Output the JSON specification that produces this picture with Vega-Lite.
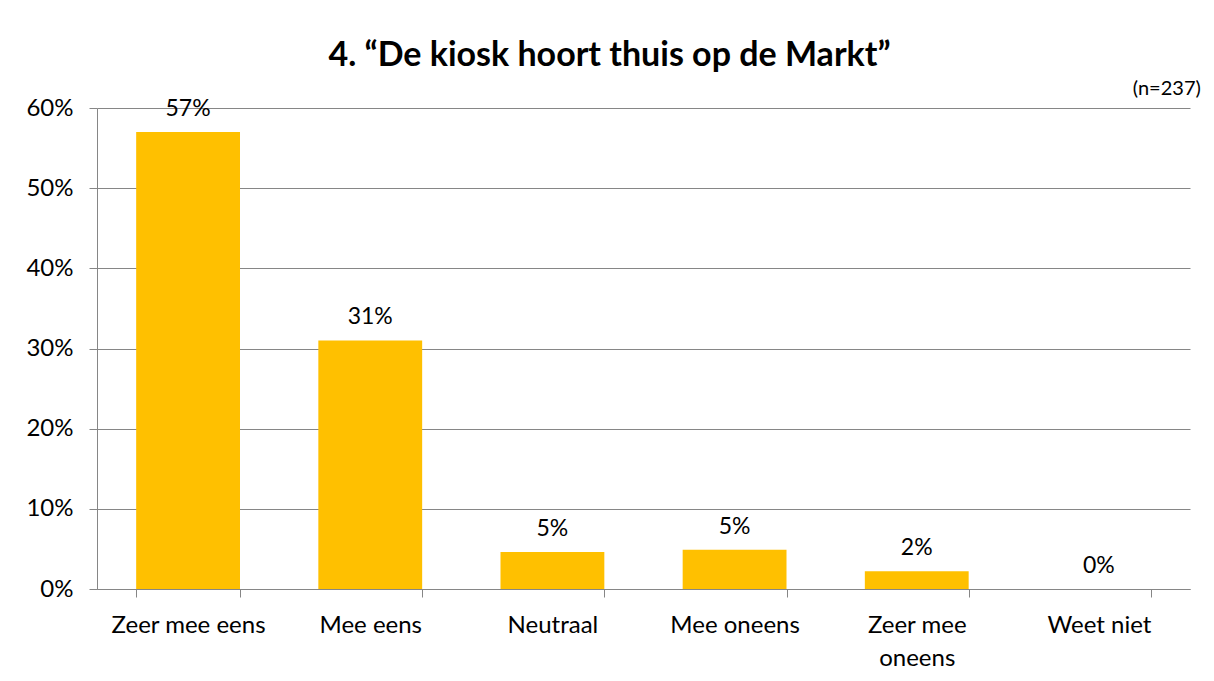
{
  "$schema": "https://vega.github.io/schema/vega-lite/v6.json",
  "width": 1093,
  "height": 481,
  "autosize": "none",
  "padding": {"left": 97, "top": 108, "right": 24, "bottom": 92},
  "background": "white",
  "config": {"font": "Lato", "view": {"stroke": null}},
  "title": {"text": "4. “De kiosk hoort thuis op de Markt”", "fontSize": 34, "fontWeight": "bold", "color": "black", "anchor": "middle", "frame": "group", "dx": -34, "offset": 6},
  "data": {"values": [
    {"cat": "Zeer mee eens", "pct": 0.570},
    {"cat": "Mee eens", "pct": 0.310},
    {"cat": "Neutraal", "pct": 0.046},
    {"cat": "Mee oneens", "pct": 0.049},
    {"cat": "Zeer mee oneens", "pct": 0.022},
    {"cat": "Weet niet", "pct": 0.0}
  ]},
  "layer": [
    {
      "mark": {"type": "bar", "color": "#FFC000"},
      "encoding": {
        "x": {"field": "cat", "type": "nominal", "sort": null,
          "scale": {"paddingInner": 0.43, "paddingOuter": 0.215},
          "axis": {"title": null, "labelAngle": 0, "tickBand": "extent", "tickSize": 8, "tickColor": "#868686", "domainColor": "#868686", "labelFontSize": 24, "labelColor": "black", "labelPadding": 16, "labelLineHeight": 33,
            "labelExpr": "datum.label == 'Zeer mee oneens' ? ['Zeer mee', 'oneens'] : datum.label"}},
        "y": {"field": "pct", "type": "quantitative",
          "scale": {"domain": [0, 0.6], "nice": false},
          "axis": {"title": null, "values": [0, 0.1, 0.2, 0.3, 0.4, 0.5, 0.6], "format": ".0%", "grid": true, "gridColor": "#868686", "gridOpacity": 1, "domainColor": "#868686", "tickColor": "#868686", "tickSize": 8, "labelPadding": 16, "labelFontSize": 24, "labelColor": "black"}}
      }
    },
    {
      "mark": {"type": "text", "baseline": "bottom", "dy": -11, "fontSize": 23, "color": "black"},
      "encoding": {
        "x": {"field": "cat", "type": "nominal", "sort": null},
        "y": {"field": "pct", "type": "quantitative"},
        "text": {"field": "pct", "type": "quantitative", "format": ".0%"}
      }
    },
    {
      "data": {"values": [{"note": "(n=237)"}]},
      "mark": {"type": "text", "align": "right", "baseline": "bottom", "dx": 50, "dy": -9, "fontSize": 20, "color": "black"},
      "encoding": {
        "x": {"datum": "Weet niet", "bandPosition": 1},
        "y": {"datum": 0.6},
        "text": {"field": "note", "type": "nominal"}
      }
    }
  ]
}
